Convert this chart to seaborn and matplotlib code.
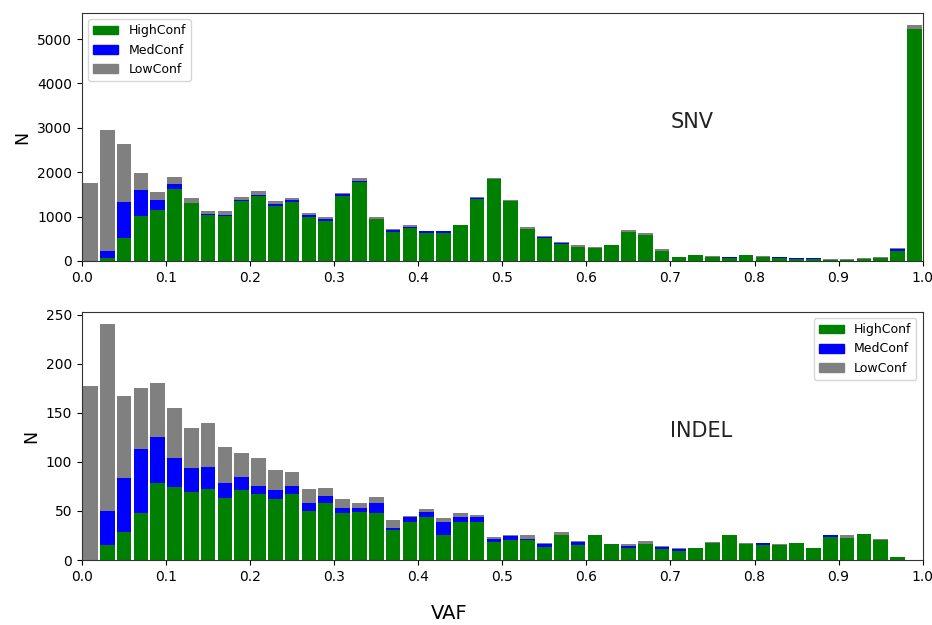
import matplotlib
matplotlib.use("Agg")
import matplotlib.pyplot as plt
from matplotlib.patches import Patch
import numpy as np
import pandas as pd
import seaborn as sns

# 50 bins of 0.02 on VAF
N_BINS = 50
CONF_LEVELS = ["HighConf", "MedConf", "LowConf"]
COLORS = {"HighConf": "#008000", "MedConf": "#0000ff", "LowConf": "#808080"}

snv_high = [0, 60, 510, 1020, 1140, 1620, 1300, 1030, 1020, 1360,
            1465, 1240, 1330, 995, 910, 1465, 1780, 945, 660, 740,
            635, 635, 800, 1400, 1850, 1360, 710, 515, 375, 320,
            290, 350, 660, 590, 230, 80, 125, 95, 60, 125,
            95, 60, 40, 40, 30, 30, 40, 65, 225, 5230]
snv_med = [0, 170, 820, 590, 245, 120, 10, 25, 5, 5,
           30, 40, 45, 40, 45, 45, 30, 5, 35, 35,
           30, 30, 5, 30, 0, 0, 0, 35, 30, 5,
           0, 0, 0, 0, 0, 0, 0, 0, 20, 0,
           0, 20, 20, 20, 0, 0, 0, 0, 45, 0]
snv_low = [1750, 2710, 1300, 375, 170, 155, 100, 75, 105, 80,
           80, 75, 40, 45, 30, 15, 50, 40, 15, 25,
           15, 15, 10, 15, 20, 20, 50, 15, 20, 40,
           20, 15, 30, 30, 30, 15, 20, 20, 15, 20,
           20, 15, 8, 8, 15, 12, 20, 30, 15, 90]

indel_high = [0, 15, 29, 48, 79, 74, 69, 72, 63, 71,
              67, 62, 67, 50, 58, 48, 49, 48, 31, 39,
              44, 26, 39, 39, 18, 20, 20, 13, 25, 15,
              26, 16, 12, 16, 11, 9, 12, 17, 26, 16,
              15, 15, 17, 12, 23, 22, 27, 20, 3, 0]
indel_med = [0, 35, 55, 65, 46, 30, 25, 23, 16, 14,
             9, 9, 8, 8, 7, 5, 4, 10, 2, 5,
             5, 13, 5, 5, 3, 4, 1, 3, 0, 3,
             0, 0, 2, 0, 2, 2, 0, 0, 0, 0,
             2, 0, 0, 0, 2, 0, 0, 0, 0, 0]
indel_low = [178, 191, 83, 63, 56, 51, 41, 45, 36, 24,
             28, 21, 15, 14, 8, 9, 5, 6, 8, 1,
             3, 4, 4, 2, 2, 1, 5, 1, 4, 1,
             0, 0, 2, 3, 1, 1, 0, 1, 0, 1,
             0, 1, 0, 0, 0, 3, 0, 1, 0, 0]


def to_frame(high, med, low):
    centers = (np.arange(N_BINS) + 0.5) / N_BINS
    rows = []
    for name, vals in zip(CONF_LEVELS, [high, med, low]):
        for c, v in zip(centers, vals):
            rows.append({"VAF": c, "count": v, "conf": name})
    return pd.DataFrame(rows)


def draw_panel(ax, df, label, label_y, legend_loc):
    # first hue level is drawn on top in a seaborn stack, so reverse
    sns.histplot(data=df, x="VAF", weights="count", hue="conf",
                 hue_order=CONF_LEVELS[::-1], palette=COLORS,
                 multiple="stack", bins=N_BINS, binrange=(0, 1), alpha=1,
                 shrink=0.87, linewidth=0, legend=False, ax=ax)
    ax.set_xlim(0, 1)
    ax.set_xticks(np.arange(0, 1.01, 0.1))
    ax.set_ylabel("N", fontsize=12.5)
    ax.set_xlabel("")
    ax.text(0.7, label_y, label, fontsize=15, color="#222222")
    handles = [Patch(color=COLORS[c], label=c) for c in CONF_LEVELS]
    ax.legend(handles=handles, loc=legend_loc, fontsize=9)
    for s in ax.spines.values():
        s.set_color("#333333")


fig = plt.figure(figsize=(9.32, 6.25), dpi=100)
ax1 = fig.add_axes([0.088, 0.5824, 0.902, 0.3968])
ax2 = fig.add_axes([0.088, 0.104, 0.902, 0.3968])

draw_panel(ax1, to_frame(snv_high, snv_med, snv_low), "SNV", 3000, "upper left")
draw_panel(ax2, to_frame(indel_high, indel_med, indel_low), "INDEL", 125, "upper right")

fig.text(0.482, 0.01, "VAF", fontsize=14, ha="center")

plt.savefig("out.png", dpi=100)
